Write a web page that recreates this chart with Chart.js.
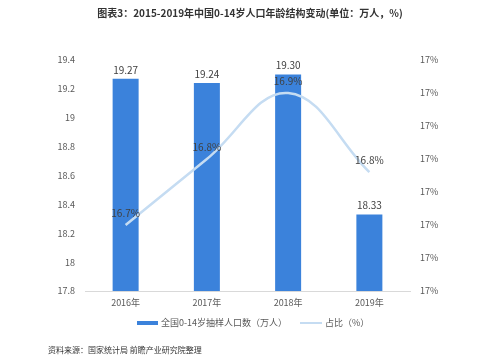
<!DOCTYPE html>
<html lang="zh">
<head>
    <meta charset="UTF-8">
    <title>2015-2019年中国0-14岁人口年龄结构变动</title>
    <style>
        * { margin: 0; padding: 0; box-sizing: border-box; }
        body {
            width: 500px;
            height: 362px;
            background: #fff;
            font-family: 'Noto Sans CJK SC', 'Noto Sans', sans-serif;
            color: #404040;
            overflow: hidden;
        }
        .wrap { position: relative; width: 500px; height: 362px; }
        #title {
            position: absolute; top: 5px; left: 0; width: 500px;
            text-align: center; font-size: 10px; font-weight: bold; color: #333;
        }
        .legend {
            position: absolute; top: 316px; font-size: 9px; color: #595959;
            display: flex; align-items: center;
        }
        .legend .box { display: inline-block; width: 21px; height: 4px; background: #3b82db; margin-right: 3px; }
        .legend .ln { display: inline-block; width: 22px; height: 2px; background: #c5dcf2; margin-right: 3px; }
        #source {
            position: absolute; top: 344px; left: 48px; font-size: 8px; color: #333;
        }
    </style>
</head>
<body>
<div class="wrap">
    <canvas id="chart" width="500" height="362"></canvas>
    <div id="title">图表3：2015-2019年中国0-14岁人口年龄结构变动(单位：万人，%)</div>
    <div class="legend" style="left:137px"><span class="box"></span>全国0-14岁抽样人口数（万人）</div>
    <div class="legend" style="left:300px"><span class="ln"></span>占比（%）</div>
    <div id="source">资料来源：国家统计局 前瞻产业研究院整理</div>
</div>

<script src="https://cdn.jsdelivr.net/npm/chart.js"></script>
<script>
    // data
    const years = ['2016年', '2017年', '2018年', '2019年'];
    const population = [19.27, 19.24, 19.30, 18.33];
    const share = [16.7, 16.8, 16.9, 16.78];

    // draws the value labels over bars and line points
    const valueLabels = {
        id: 'valueLabels',
        afterDatasetsDraw(chart) {
            const ctx = chart.ctx;
            ctx.save();
            ctx.font = '10px "Noto Sans CJK SC", sans-serif';
            ctx.fillStyle = '#404040';
            ctx.textAlign = 'center';
            ctx.textBaseline = 'middle';
            chart.getDatasetMeta(0).data.forEach((bar, i) => {
                ctx.fillText(population[i].toFixed(2), bar.x, bar.y - 9);
            });
            chart.getDatasetMeta(1).data.forEach((pt, i) => {
                ctx.fillText(share[i].toFixed(1) + '%', pt.x, pt.y - 12);
            });
            ctx.restore();
        }
    };

    const tickFont = { size: 9, family: '"Noto Sans CJK SC", sans-serif' };

    new Chart(document.getElementById('chart'), {
        data: {
            labels: years,
            datasets: [{
                type: 'bar',
                label: '全国0-14岁抽样人口数（万人）',
                data: population,
                backgroundColor: '#3b82db',
                barPercentage: 0.32,
                categoryPercentage: 1,
                yAxisID: 'y',
                order: 2
            }, {
                type: 'line',
                label: '占比（%）',
                data: share,
                borderColor: '#c5dcf2',
                borderWidth: 2.5,
                pointRadius: 0,
                tension: 0.4,
                fill: false,
                yAxisID: 'y1',
                order: 1
            }]
        },
        options: {
            responsive: false,
            animation: false,
            layout: { padding: { top: 60, left: 0, right: 0, bottom: 0 } },
            plugins: {
                legend: { display: false },
                title: { display: false },
                tooltip: { enabled: false }
            },
            scales: {
                x: {
                    grid: { display: false, drawTicks: false },
                    border: { color: '#d9d9d9' },
                    ticks: { color: '#595959', font: tickFont, padding: 6 },
                    afterFit(s) { s.height = 71; }
                },
                y: {
                    position: 'left',
                    min: 17.8,
                    max: 19.4,
                    grid: { display: false, drawTicks: false },
                    border: { display: false },
                    ticks: {
                        stepSize: 0.2,
                        color: '#595959',
                        font: tickFont,
                        padding: 10,
                        callback: v => String(+v.toFixed(1))
                    },
                    afterFit(s) { s.width = 85; }
                },
                y1: {
                    position: 'right',
                    min: 16.6,
                    max: 16.95,
                    grid: { display: false, drawTicks: false },
                    border: { display: false },
                    ticks: {
                        stepSize: 0.05,
                        color: '#595959',
                        font: tickFont,
                        padding: 10,
                        callback: v => Math.round(v) + '%'
                    },
                    afterFit(s) { s.width = 90; }
                }
            }
        },
        plugins: [valueLabels]
    });
</script>
</body>
</html>
